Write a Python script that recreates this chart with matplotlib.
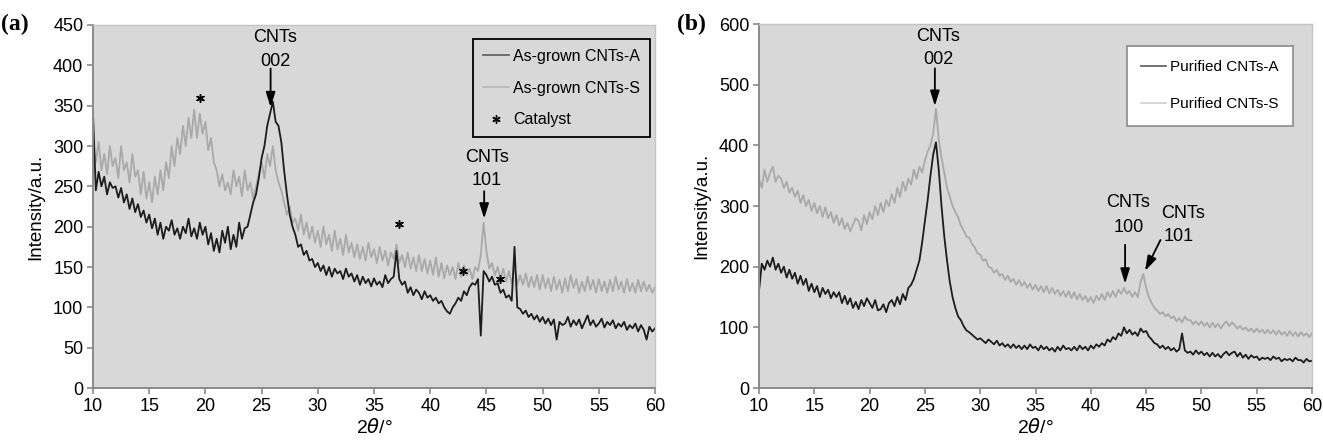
import numpy as np
import matplotlib.pyplot as plt
from matplotlib.lines import Line2D

plt.rcParams['font.family'] = ['Liberation Sans', 'DejaVu Sans']

# 2theta from 10 to 60 in 0.25 deg steps
two_theta = np.arange(10, 60.001, 0.25)

# (a) as-grown samples, four readings per degree
asgrown_A = [
    340, 245, 268, 250, 262, 240, 255, 248, 250, 236, 248, 230, 240, 222, 235, 218,
    228, 212, 220, 205, 215, 198, 210, 190, 205, 185, 200, 195, 208, 190, 198, 185,
    200, 192, 210, 188, 198, 185, 205, 190, 200, 178, 192, 170, 185, 168, 195, 180,
    200, 172, 190, 175, 205, 185, 198, 200, 215, 230, 240, 260, 285, 300, 325, 340,
    355, 330, 325, 305, 270, 240, 215, 200, 190, 175, 178, 165, 170, 158, 160, 150,
    155, 145, 152, 140, 150, 138, 148, 142, 145, 135, 148, 138, 142, 132, 140, 128,
    138, 130, 135, 126, 136, 128, 132, 125, 140, 130, 135, 138, 170, 135, 128, 132,
    118, 125, 115, 122, 118, 110, 120, 112, 115, 108, 112, 105, 108, 100, 95, 92,
    100, 105, 112, 108, 120, 115, 125, 130, 128, 135, 65, 145, 140, 132, 138, 128,
    130, 118, 122, 112, 115, 108, 175, 100, 98, 92, 96, 88, 92, 85, 90, 82,
    88, 80, 86, 78, 85, 60, 82, 78, 80, 88, 76, 84, 78, 85, 74, 82,
    90, 78, 84, 76, 80, 86, 75, 82, 78, 84, 74, 80, 76, 82, 72, 78,
    74, 80, 70, 78, 72, 60, 76, 70, 74,
]
asgrown_S = [
    300, 280, 305, 270, 290, 265, 300, 275, 285, 260, 300, 270, 280, 255, 290, 262,
    270, 240, 268, 235, 255, 230, 262, 240, 270, 245, 280, 260, 300, 275, 310, 290,
    325, 300, 335, 310, 345, 310, 340, 315, 330, 295, 310, 280, 270, 250, 265, 245,
    255, 240, 270, 250, 262, 238, 270, 245, 255, 235, 250, 265, 280, 260, 290, 275,
    300, 270, 255, 245, 230, 215, 225, 205, 210, 195, 215, 190, 205, 185, 200, 180,
    195, 175, 200, 178, 190, 170, 195, 172, 185, 165, 190, 168, 180, 162, 178, 160,
    175, 158, 180, 162, 172, 155, 175, 158, 170, 152, 168, 160, 178, 155, 165, 150,
    168, 148, 162, 145, 165, 145, 160, 142, 158, 140, 162, 138, 155, 136, 152, 140,
    150, 135, 155, 138, 152, 140, 148, 135, 150, 145, 165, 205, 170, 148, 155, 140,
    150, 135, 148, 132, 145, 130, 150, 128, 140, 128, 142, 125, 138, 125, 140, 122,
    140, 124, 136, 120, 138, 122, 134, 118, 136, 120, 140, 124, 135, 118, 132, 120,
    138, 122, 134, 118, 135, 120, 132, 118, 134, 120, 138, 122, 132, 118, 135, 120,
    130, 118, 134, 120, 132, 120, 128, 118, 125,
]

# (b) purified samples
purified_A = [
    160, 205, 195, 210, 200, 215, 195, 205, 190, 200, 182, 195, 180, 190, 172, 185,
    170, 180, 160, 172, 158, 168, 150, 165, 155, 162, 148, 158, 150, 158, 140, 152,
    138, 148, 132, 142, 130, 145, 135, 148, 140, 132, 145, 128, 130, 138, 125, 140,
    145, 135, 150, 138, 155, 145, 165, 170, 180, 195, 210, 240, 275, 310, 350, 385,
    405, 360, 300, 250, 210, 175, 150, 132, 118, 112, 102, 95, 92, 88, 84, 80,
    82, 78, 74, 80, 76, 72, 78, 70, 74, 68, 72, 66, 72, 66, 70, 64,
    70, 64, 72, 66, 68, 62, 70, 64, 68, 62, 66, 60, 68, 62, 70, 64,
    66, 62, 68, 62, 70, 64, 68, 62, 70, 65, 72, 68, 74, 70, 80, 76,
    84, 80, 90, 86, 100, 90, 96, 88, 92, 86, 98, 92, 94, 85, 80, 74,
    72, 66, 70, 64, 68, 62, 66, 60, 64, 90, 62, 58, 60, 55, 62, 56,
    60, 54, 58, 52, 58, 52, 56, 50, 56, 60, 54, 58, 60, 52, 58, 50,
    55, 48, 54, 50, 52, 46, 50, 48, 50, 46, 52, 48, 50, 44, 48, 46,
    48, 44, 50, 46, 46, 42, 48, 44, 45,
]
purified_S = [
    345, 330, 360, 340, 355, 365, 340, 350, 345, 330, 340, 322, 330, 315, 325, 305,
    318, 300, 310, 292, 305, 288, 300, 282, 298, 280, 290, 272, 285, 268, 280, 262,
    272, 258, 270, 280, 275, 260, 285, 270, 290, 278, 300, 285, 305, 290, 310, 300,
    320, 305, 330, 315, 340, 325, 345, 335, 360, 345, 365, 355, 375, 390, 400, 420,
    460, 410, 380, 355, 330, 315, 300, 290, 282, 268, 260, 250, 248, 238, 232, 222,
    220, 210, 212, 200, 198, 190, 195, 185, 188, 178, 185, 175, 180, 170, 178, 168,
    175, 165, 172, 162, 170, 160, 168, 158, 168, 156, 165, 155, 162, 152, 160, 150,
    160, 148, 158, 146, 155, 145, 152, 142, 150, 140, 152, 145, 155, 145, 158, 150,
    160, 150, 162, 155, 165, 155, 160, 150, 158, 150, 175, 188, 165, 150, 140, 132,
    128, 122, 125, 118, 122, 115, 118, 110, 115, 108, 118, 112, 112, 105, 110, 104,
    110, 102, 108, 100, 108, 100, 106, 98, 105, 110, 102, 108, 104, 98, 102, 96,
    100, 94, 98, 92, 98, 92, 96, 90, 96, 90, 95, 88, 95, 88, 92, 86,
    94, 86, 92, 85, 92, 86, 90, 84, 90,
]

catalyst_x = [19.5, 37.2, 42.9, 46.2]
catalyst_y = [360, 203, 145, 135]

AX_BG = '#d8d8d8'
DARK = '#1c1c1c'
LIGHT = '#a9a9a9'
ARROW = dict(arrowstyle='-|>,head_length=0.9,head_width=0.28', color='black',
             lw=1.3, shrinkA=0, shrinkB=0)
FS = 13


def style_axes(ax, ymax, ystep):
    ax.set_facecolor(AX_BG)
    ax.set_xlim(10, 60)
    ax.set_ylim(0, ymax)
    ax.set_xticks(np.arange(10, 61, 5))
    ax.set_yticks(np.arange(0, ymax + 1, ystep))
    for side in ['left', 'bottom']:
        ax.spines[side].set_color('#8a8a8a')
        ax.spines[side].set_linewidth(1.4)
    for side in ['top', 'right']:
        ax.spines[side].set_color('#c4c4c4')
        ax.spines[side].set_linewidth(1.0)
    ax.tick_params(direction='out', length=4, width=1.2, color='#8a8a8a',
                   labelsize=13, pad=3)
    ax.set_xlabel('2$\\theta$/°', fontsize=14, labelpad=2)
    ax.set_ylabel('Intensity/a.u.', fontsize=13.5, labelpad=6)


fig = plt.figure(figsize=(13.23, 4.44), dpi=100)
ax1 = fig.add_axes([0.0703, 0.1261, 0.4248, 0.8176])
ax2 = fig.add_axes([0.5737, 0.1261, 0.4180, 0.8198])

# ---- panel (a)
ax1.plot(two_theta, asgrown_S, color=LIGHT, lw=1.3)
ax1.plot(two_theta, asgrown_A, color=DARK, lw=1.3)
ax1.scatter(catalyst_x, catalyst_y, marker=(6, 2, 0), s=30, color='black',
            linewidths=1.1, zorder=5)
style_axes(ax1, 450, 50)

ax1.text(26.2, 435, 'CNTs', ha='center', va='center', fontsize=FS)
ax1.text(26.2, 405, '002', ha='center', va='center', fontsize=FS)
ax1.annotate('', xy=(25.8, 348), xytext=(25.8, 396), arrowprops=ARROW)
ax1.text(45.1, 286, 'CNTs', ha='center', va='center', fontsize=FS)
ax1.text(45.0, 257, '101', ha='center', va='center', fontsize=FS)
ax1.annotate('', xy=(44.8, 210), xytext=(44.8, 244), arrowprops=ARROW)

handles_a = [
    Line2D([], [], color='#5a5a5a', lw=1.2),
    Line2D([], [], color='#b8b8b8', lw=1.2),
    Line2D([], [], color='black', marker=(6, 2, 0), ls='none', ms=6, mew=1.0),
]
leg1 = ax1.legend(handles_a, ['As-grown CNTs-A', 'As-grown CNTs-S', 'Catalyst'],
                  loc='upper right', bbox_to_anchor=(0.991, 0.961),
                  borderaxespad=0, fontsize=11.5, labelspacing=1.05,
                  handlelength=1.6, handletextpad=0.3, borderpad=0.6,
                  fancybox=False, framealpha=1)
leg1.get_frame().set_facecolor(AX_BG)
leg1.get_frame().set_edgecolor('black')
leg1.get_frame().set_linewidth(1.3)

# ---- panel (b)
ax2.plot(two_theta, purified_S, color=LIGHT, lw=1.3)
ax2.plot(two_theta, purified_A, color=DARK, lw=1.3)
style_axes(ax2, 600, 100)

ax2.text(26.2, 580, 'CNTs', ha='center', va='center', fontsize=FS)
ax2.text(26.2, 541, '002', ha='center', va='center', fontsize=FS)
ax2.annotate('', xy=(25.9, 465), xytext=(25.9, 527), arrowprops=ARROW)
ax2.text(43.4, 305, 'CNTs', ha='center', va='center', fontsize=FS)
ax2.text(43.4, 264, '100', ha='center', va='center', fontsize=FS)
ax2.annotate('', xy=(43.1, 172), xytext=(43.1, 236), arrowprops=ARROW)
ax2.text(48.3, 287, 'CNTs', ha='center', va='center', fontsize=FS)
ax2.text(47.9, 249, '101', ha='center', va='center', fontsize=FS)
ax2.annotate('', xy=(44.9, 193), xytext=(46.3, 244), arrowprops=ARROW)

handles_b = [
    Line2D([], [], color='#5a5a5a', lw=1.2),
    Line2D([], [], color='#d0d0d0', lw=1.2),
]
leg2 = ax2.legend(handles_b, ['Purified CNTs-A', 'Purified CNTs-S'],
                  loc='upper right', bbox_to_anchor=(0.966, 0.940),
                  borderaxespad=0, fontsize=11, labelspacing=1.5,
                  handlelength=1.6, handletextpad=0.3, borderpad=0.95,
                  fancybox=False, framealpha=1)
leg2.get_frame().set_facecolor('white')
leg2.get_frame().set_edgecolor('#8a8a8a')
leg2.get_frame().set_linewidth(1.2)

# panel letters
fig.text(0.001, 0.944, '(a)', fontsize=17, fontweight='bold',
         family='Liberation Serif', va='center')
fig.text(0.512, 0.946, '(b)', fontsize=17, fontweight='bold',
         family='Liberation Serif', va='center')

fig.savefig('out.png', dpi=100, facecolor='white')
